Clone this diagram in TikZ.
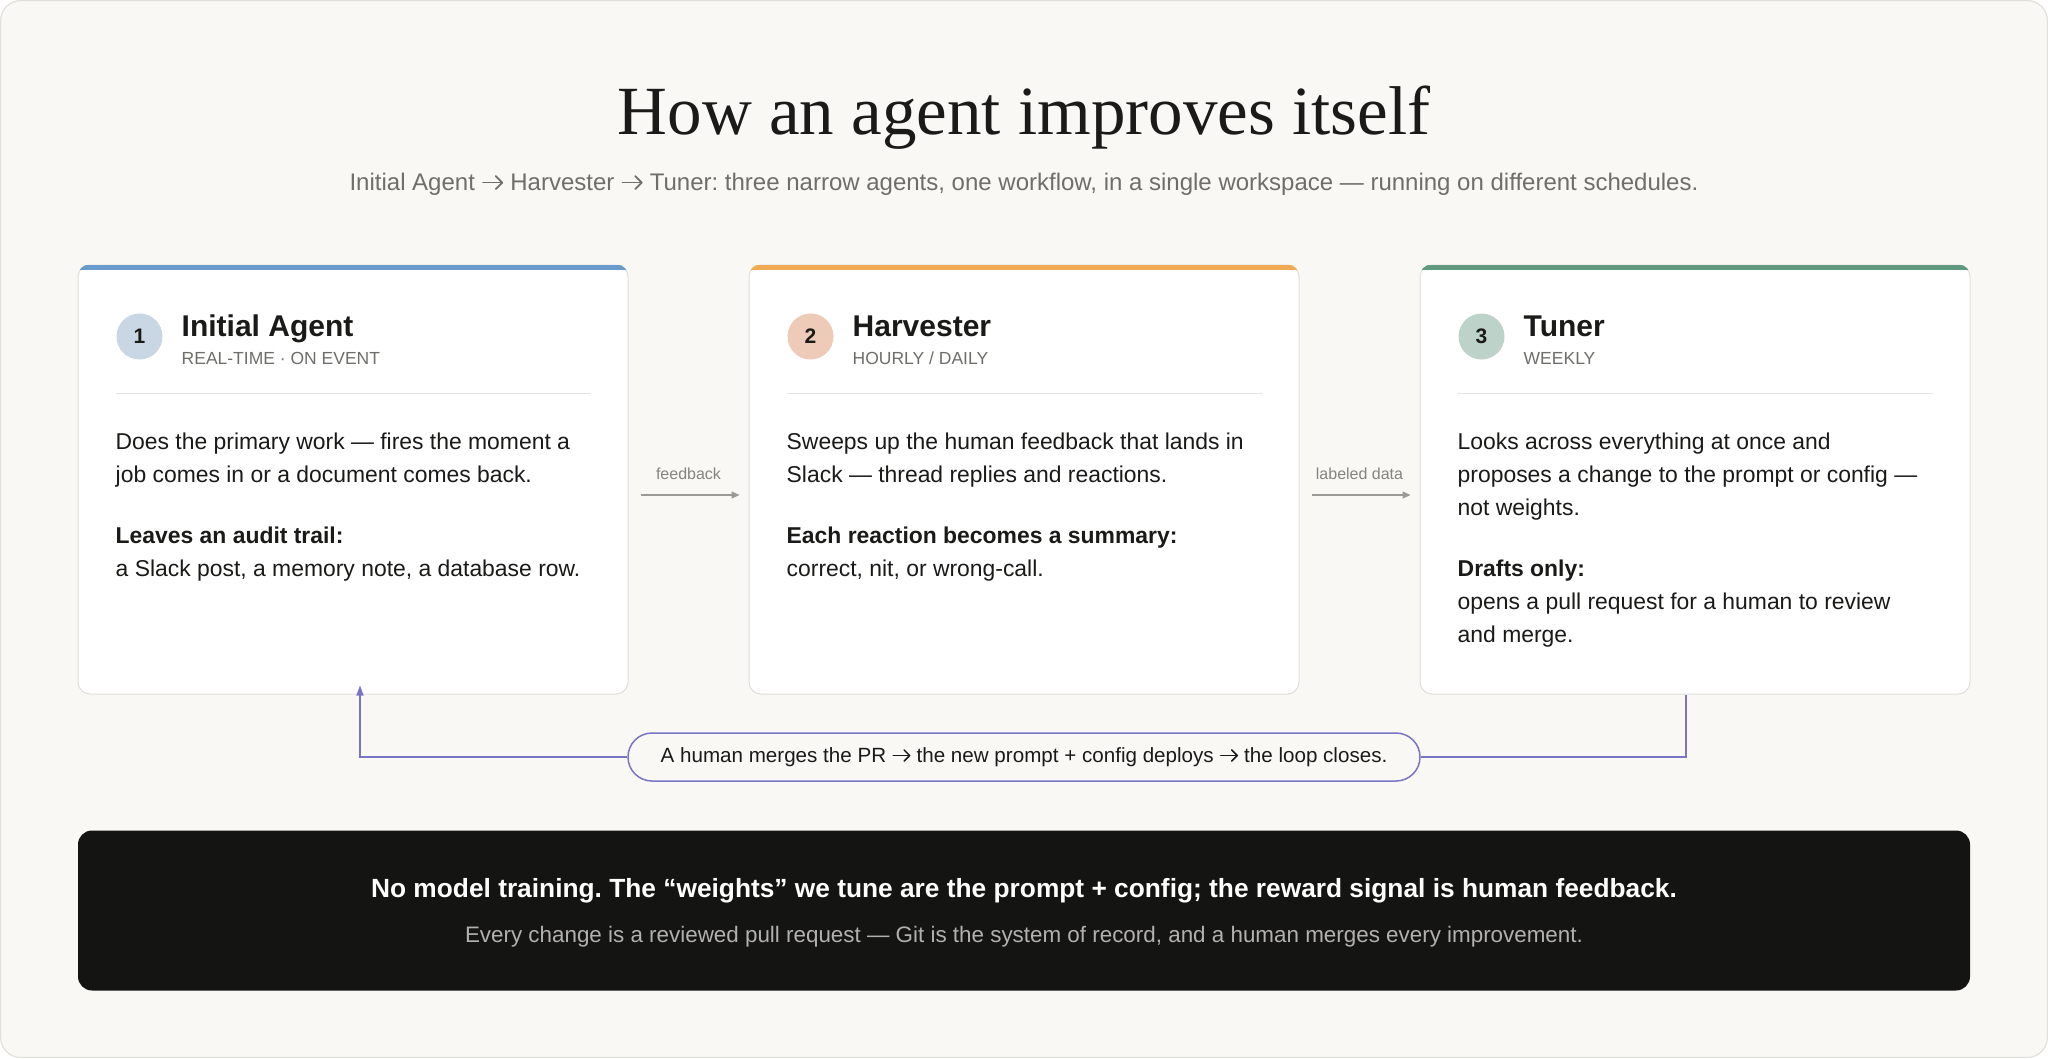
\documentclass[tikz,border=0pt]{standalone}
\usepackage{fontspec}
\setmainfont{Liberation Sans}
\newfontfamily\seriffam{Liberation Serif}
\newcommand\arr[1][subgray]{\tikz[x=0.1em,y=0.1em,baseline=0pt,line width=0.075em,line cap=round,line join=round,sharp corners]{\path (-0.6,0) (8.6,0); \draw[draw=#1,fill=none,solid] (0,3.3) -- (8,3.3); \draw[draw=#1,fill=none,solid] (5.3,0.6) -- (8,3.3) -- (5.3,6.0);}}
\frenchspacing
\usetikzlibrary{arrows.meta,calc}
\definecolor{bg}{HTML}{F9F8F5}
\definecolor{frame}{HTML}{E2E0DB}
\definecolor{ink}{HTML}{1A1A18}
\definecolor{subgray}{HTML}{6E6E6A}
\definecolor{cardline}{HTML}{E0DEDA}
\definecolor{divline}{HTML}{E6E4E0}
\definecolor{topA}{HTML}{6A9BCD}
\definecolor{topB}{HTML}{EFAA52}
\definecolor{topC}{HTML}{5F9A80}
\definecolor{badgeA}{HTML}{C9D6E3}
\definecolor{badgeB}{HTML}{EDCBB8}
\definecolor{badgeC}{HTML}{BDD3C9}
\definecolor{flowgray}{HTML}{9B9A97}
\definecolor{lblgray}{HTML}{858480}
\definecolor{loopc}{HTML}{7A74C4}
\definecolor{panelc}{HTML}{141412}
\definecolor{panelsub}{HTML}{B3B1AC}
\tikzset{
  card/.style={draw=cardline, line width=1pt, fill=white, rounded corners=12pt,
    minimum width=550pt, minimum height=429pt, inner sep=0pt},
  badge/.style={circle, minimum size=46pt, inner sep=0pt, text=ink,
    font=\bfseries\fontsize{21}{24}\selectfont},
  ctitle/.style={anchor=base west, inner sep=0pt, text=ink,
    font=\bfseries\fontsize{30}{36}\selectfont},
  csub/.style={anchor=base west, inner sep=0pt, text=subgray,
    font=\fontsize{17.5}{21}\selectfont},
  divider/.style={draw=divline, line width=1.2pt},
  body/.style={anchor=north west, inner sep=0pt, align=left, text=ink,
    font=\fontsize{22.9}{33}\selectfont},
  flow/.style={draw=flowgray, line width=1.3pt, -{Triangle[length=8pt,width=7pt]},
    shorten <=12pt, shorten >=9pt},
  flowlbl/.style={text=lblgray, font=\fontsize{16}{19}\selectfont, inner sep=0pt},
  loopline/.style={draw=loopc, line width=1.5pt},
  pill/.style={draw=loopc, line width=1.5pt, fill=bg, rounded corners=24pt,
    minimum width=792pt, minimum height=48pt, inner sep=0pt, text=ink,
    font=\fontsize{20.6}{24}\selectfont},
  panel/.style={fill=panelc, rounded corners=14pt, minimum width=1892pt,
    minimum height=160pt, inner sep=0pt}
}
\begin{document}
\begin{tikzpicture}[x=1pt,y=-1pt]
\useasboundingbox (0,0) rectangle (2048,1058);
\draw[draw=frame, fill=bg, line width=1.2pt, rounded corners=20pt] (0.6,0.6) rectangle (2047.4,1057.4);

% title
\node[anchor=base, inner sep=0pt, text=ink, font=\seriffam\fontsize{69}{80}\selectfont] (title) at (1024,134) {How an agent improves itself};
\node[anchor=base, inner sep=0pt, text=subgray, font=\fontsize{24}{29}\selectfont] (subtitle) at (1024,190.5) {Initial Agent \arr{} Harvester \arr{} Tuner: three narrow agents, one workflow, in a single workspace — running on different schedules.};

% cards
\node[card] (c1) at (353,479.5) {};
\node[card] (c2) at (1024,479.5) {};
\node[card] (c3) at (1695,479.5) {};

\begin{scope}
\clip[rounded corners=12pt] (c1.south west) rectangle (c1.north east);
\fill[topA] (c1.north west) rectangle ([yshift=-5.5pt]c1.north east);
\end{scope}
\begin{scope}
\clip[rounded corners=12pt] (c2.south west) rectangle (c2.north east);
\fill[topB] (c2.north west) rectangle ([yshift=-5.5pt]c2.north east);
\end{scope}
\begin{scope}
\clip[rounded corners=12pt] (c3.south west) rectangle (c3.north east);
\fill[topC] (c3.north west) rectangle ([yshift=-5.5pt]c3.north east);
\end{scope}

% card 1
\node[badge, fill=badgeA] (b1) at ([xshift=62pt,yshift=-72pt]c1.north west) {1};
\node[ctitle] (t1) at ([xshift=104pt,yshift=-72pt]c1.north west) {Initial Agent};
\node[csub] (s1) at ([xshift=104pt,yshift=-100pt]c1.north west) {REAL-TIME · ON EVENT};
\draw[divider] ([xshift=38pt,yshift=-129pt]c1.north west) -- ([xshift=-38pt,yshift=-129pt]c1.north east);
\node[body] (d1) at ([xshift=38pt,yshift=-168pt]c1.north west) {Does the primary work — fires the moment a\\job comes in or a document comes back.\\[28pt]\textbf{Leaves an audit trail:}\\a Slack post, a memory note, a database row.};

% card 2
\node[badge, fill=badgeB] (b2) at ([xshift=62pt,yshift=-72pt]c2.north west) {2};
\node[ctitle] (t2) at ([xshift=104pt,yshift=-72pt]c2.north west) {Harvester};
\node[csub] (s2) at ([xshift=104pt,yshift=-100pt]c2.north west) {HOURLY / DAILY};
\draw[divider] ([xshift=38pt,yshift=-129pt]c2.north west) -- ([xshift=-38pt,yshift=-129pt]c2.north east);
\node[body] (d2) at ([xshift=38pt,yshift=-168pt]c2.north west) {Sweeps up the human feedback that lands in\\Slack — thread replies and reactions.\\[28pt]\textbf{Each reaction becomes a summary:}\\correct, nit, or wrong-call.};

% card 3
\node[badge, fill=badgeC] (b3) at ([xshift=62pt,yshift=-72pt]c3.north west) {3};
\node[ctitle] (t3) at ([xshift=104pt,yshift=-72pt]c3.north west) {Tuner};
\node[csub] (s3) at ([xshift=104pt,yshift=-100pt]c3.north west) {WEEKLY};
\draw[divider] ([xshift=38pt,yshift=-129pt]c3.north west) -- ([xshift=-38pt,yshift=-129pt]c3.north east);
\node[body] (d3) at ([xshift=38pt,yshift=-168pt]c3.north west) {Looks across everything at once and\\proposes a change to the prompt or config —\\not weights.\\[28pt]\textbf{Drafts only:}\\opens a pull request for a human to review\\and merge.};

% flow arrows
\draw[flow] ([yshift=-15.5pt]c1.east) -- ([yshift=-15.5pt]c2.west)
  node[flowlbl, pos=0.5, yshift=21pt] (l1) {feedback};
\draw[flow] ([yshift=-15.5pt]c2.east) -- ([yshift=-15.5pt]c3.west)
  node[flowlbl, pos=0.5, yshift=21pt] (l2) {labeled data};

% loop
\node[pill] (pill) at (1024,757) {A human merges the PR \arr[ink]{} the new prompt + config deploys \arr[ink]{} the loop closes.};
\draw[loopline] ([xshift=-9pt]c3.south) |- (pill.east);
\draw[loopline, -{Triangle[length=10pt,width=7pt]}] (pill.west) -| ([xshift=7pt,yshift=9pt]c1.south);

% bottom panel
\node[panel] (panel) at (1024,910.5) {};
\node[anchor=base, inner sep=0pt, text=white, font=\bfseries\fontsize{26.3}{31}\selectfont] (p1) at (1024,897.5) {No model training. The “weights” we tune are the prompt + config; the reward signal is human feedback.};
\node[anchor=base, inner sep=0pt, text=panelsub, font=\fontsize{22.4}{27}\selectfont] (p2) at (1024,942.5) {Every change is a reviewed pull request — Git is the system of record, and a human merges every improvement.};
\end{tikzpicture}
\end{document}
